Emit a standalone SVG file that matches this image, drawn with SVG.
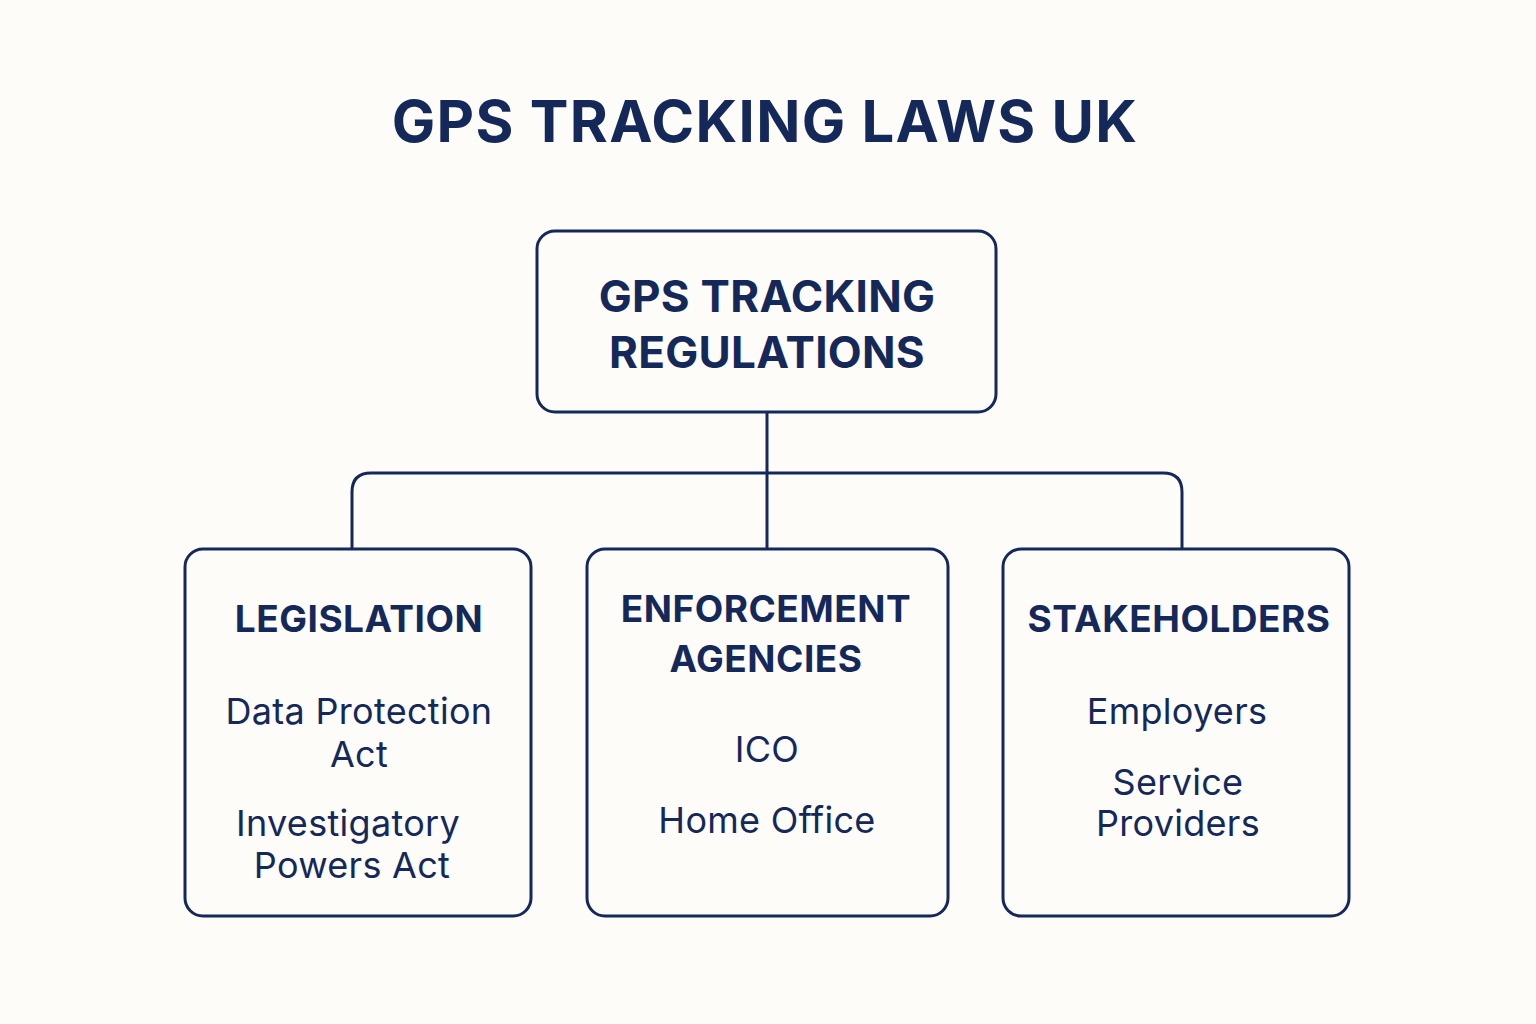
<svg xmlns="http://www.w3.org/2000/svg" width="1536" height="1024" viewBox="0 0 1536 1024">
<style>
.box{fill:none;stroke:#14295a;stroke-width:3}
.t{font-family:Inter,"Liberation Sans",sans-serif;fill:#14295a;text-anchor:middle}
.b{font-weight:700}
.h{font-size:37px;font-weight:700;letter-spacing:0.5px}
.i{font-size:36px;letter-spacing:0.3px}
</style>
<rect width="1536" height="1024" fill="#fdfcf8"/>
<text class="t b" x="765" y="142" font-size="58" letter-spacing="1.3">GPS TRACKING LAWS UK</text>
<g id="connectors" fill="none" stroke="#14295a" stroke-width="3">
<path d="M767 412V548"/>
<path d="M352 548V492Q352 473 371 473H1163Q1182 473 1182 492V548"/>
</g>
<g id="root"><rect class="box" x="537" y="231" width="459" height="181" rx="18"/>
<text class="t b" font-size="44" x="767" y="312" letter-spacing="0.3">GPS TRACKING</text>
<text class="t b" font-size="44" x="767" y="368" letter-spacing="0.3">REGULATIONS</text></g>
<g id="legislation"><rect class="box" x="185" y="549" width="346" height="367" rx="18"/>
<text class="t h" x="359" y="632">LEGISLATION</text>
<text class="t i" x="359" y="724">Data Protection</text>
<text class="t i" x="359" y="767">Act</text>
<text class="t i" x="348" y="836">Investigatory</text>
<text class="t i" x="352" y="878">Powers Act</text></g>
<g id="enforcement"><rect class="box" x="587" y="549" width="361" height="367" rx="18"/>
<text class="t h" x="766" y="622">ENFORCEMENT</text>
<text class="t h" x="766" y="672">AGENCIES</text>
<text class="t i" x="767" y="762">ICO</text>
<text class="t i" x="767" y="833">Home Office</text></g>
<g id="stakeholders"><rect class="box" x="1003" y="549" width="346" height="367" rx="18"/>
<text class="t h" x="1179" y="632">STAKEHOLDERS</text>
<text class="t i" x="1177" y="724">Employers</text>
<text class="t i" x="1178" y="795">Service</text>
<text class="t i" x="1178" y="836">Providers</text></g>
</svg>
